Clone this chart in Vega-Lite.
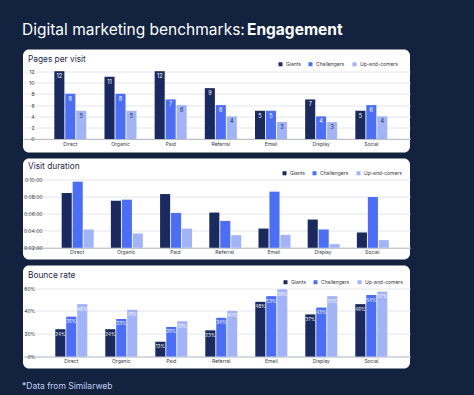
{
  "$schema": "https://vega.github.io/schema/vega-lite/v6.json",
  "background": "#12223f",
  "padding": {"left": 22, "top": 22.5, "right": 80, "bottom": 12},
  "config": {
    "view": {"fill": "white", "stroke": null, "cornerRadius": 6},
    "font": "Inter",
    "axis": {"labelFont": "Inter"},
    "legend": {"labelFont": "Inter"}
  },
  "datasets": {
    "pages": [
      {"channel": "Direct", "segment": "Giants", "value": 12},
      {"channel": "Direct", "segment": "Challengers", "value": 8},
      {"channel": "Direct", "segment": "Up-and-comers", "value": 5},
      {"channel": "Organic", "segment": "Giants", "value": 11},
      {"channel": "Organic", "segment": "Challengers", "value": 8},
      {"channel": "Organic", "segment": "Up-and-comers", "value": 5},
      {"channel": "Paid", "segment": "Giants", "value": 12},
      {"channel": "Paid", "segment": "Challengers", "value": 7},
      {"channel": "Paid", "segment": "Up-and-comers", "value": 6},
      {"channel": "Referral", "segment": "Giants", "value": 9},
      {"channel": "Referral", "segment": "Challengers", "value": 6},
      {"channel": "Referral", "segment": "Up-and-comers", "value": 4},
      {"channel": "Email", "segment": "Giants", "value": 5},
      {"channel": "Email", "segment": "Challengers", "value": 5},
      {"channel": "Email", "segment": "Up-and-comers", "value": 3},
      {"channel": "Display", "segment": "Giants", "value": 7},
      {"channel": "Display", "segment": "Challengers", "value": 4},
      {"channel": "Display", "segment": "Up-and-comers", "value": 3},
      {"channel": "Social", "segment": "Giants", "value": 5},
      {"channel": "Social", "segment": "Challengers", "value": 6},
      {"channel": "Social", "segment": "Up-and-comers", "value": 4}
    ],
    "duration": [
      {"channel": "Direct", "segment": "Giants", "value": 8.44},
      {"channel": "Direct", "segment": "Challengers", "value": 9.77},
      {"channel": "Direct", "segment": "Up-and-comers", "value": 4.15},
      {"channel": "Organic", "segment": "Giants", "value": 7.54},
      {"channel": "Organic", "segment": "Challengers", "value": 7.66},
      {"channel": "Organic", "segment": "Up-and-comers", "value": 3.68},
      {"channel": "Paid", "segment": "Giants", "value": 8.32},
      {"channel": "Paid", "segment": "Challengers", "value": 6.1},
      {"channel": "Paid", "segment": "Up-and-comers", "value": 4.26},
      {"channel": "Referral", "segment": "Giants", "value": 6.14},
      {"channel": "Referral", "segment": "Challengers", "value": 5.16},
      {"channel": "Referral", "segment": "Up-and-comers", "value": 3.48},
      {"channel": "Email", "segment": "Giants", "value": 4.26},
      {"channel": "Email", "segment": "Challengers", "value": 8.6},
      {"channel": "Email", "segment": "Up-and-comers", "value": 3.52},
      {"channel": "Display", "segment": "Giants", "value": 5.32},
      {"channel": "Display", "segment": "Challengers", "value": 4.15},
      {"channel": "Display", "segment": "Up-and-comers", "value": 2.43},
      {"channel": "Social", "segment": "Giants", "value": 3.8},
      {"channel": "Social", "segment": "Challengers", "value": 7.97},
      {"channel": "Social", "segment": "Up-and-comers", "value": 2.9}
    ],
    "bounce": [
      {"channel": "Direct", "segment": "Giants", "value": 0.24},
      {"channel": "Direct", "segment": "Challengers", "value": 0.35},
      {"channel": "Direct", "segment": "Up-and-comers", "value": 0.46},
      {"channel": "Organic", "segment": "Giants", "value": 0.24},
      {"channel": "Organic", "segment": "Challengers", "value": 0.33},
      {"channel": "Organic", "segment": "Up-and-comers", "value": 0.41},
      {"channel": "Paid", "segment": "Giants", "value": 0.13},
      {"channel": "Paid", "segment": "Challengers", "value": 0.26},
      {"channel": "Paid", "segment": "Up-and-comers", "value": 0.31},
      {"channel": "Referral", "segment": "Giants", "value": 0.23},
      {"channel": "Referral", "segment": "Challengers", "value": 0.34},
      {"channel": "Referral", "segment": "Up-and-comers", "value": 0.40},
      {"channel": "Email", "segment": "Giants", "value": 0.48},
      {"channel": "Email", "segment": "Challengers", "value": 0.53},
      {"channel": "Email", "segment": "Up-and-comers", "value": 0.59},
      {"channel": "Display", "segment": "Giants", "value": 0.37},
      {"channel": "Display", "segment": "Challengers", "value": 0.43},
      {"channel": "Display", "segment": "Up-and-comers", "value": 0.53},
      {"channel": "Social", "segment": "Giants", "value": 0.46},
      {"channel": "Social", "segment": "Challengers", "value": 0.54},
      {"channel": "Social", "segment": "Up-and-comers", "value": 0.57}
    ]
  },
  "title": {"text": "*Data from Similarweb", "orient": "bottom", "anchor": "start", "frame": "bounds", "color": "#c3d0f3", "fontSize": 8.5, "fontWeight": "normal", "font": "Inter", "offset": 13},
  "vconcat": [
    {
      "title": {"text": "Digital marketing benchmarks:", "anchor": "start", "color": "white", "fontSize": 15.5, "fontWeight": "normal", "font": "Inter", "offset": -15.5, "dx": -1},
      "vconcat": [
        {
          "title": {"text": "Engagement", "anchor": "start", "color": "white", "fontSize": 15.5, "fontWeight": "bold", "font": "Inter", "offset": 11.5, "dx": 224},
          "spacing": 6,
          "resolve": {"legend": {"color": "independent"}},
          "vconcat": [
            {
              "width": 387, "height": 103,
              "data": {"name": "pages"},
              "title": {"text": "Pages per visit", "anchor": "start", "frame": "group", "offset": -14, "dx": 5, "fontSize": 8.3, "fontWeight": "normal", "color": "#1d2747", "font": "Inter"},
              "encoding": {
                "x": {"field": "channel", "type": "nominal", "sort": ["Direct", "Organic", "Paid", "Referral", "Email", "Display", "Social"],
                  "scale": {"paddingInner": 0.362, "paddingOuter": 0.538, "align": 0.58},
                  "axis": {"title": null, "offset": -13.5, "domainColor": "#b9bdc6", "ticks": false, "labelFontSize": 5, "labelColor": "#333844", "labelPadding": 2, "labelAngle": 0, "grid": false}},
                "xOffset": {"field": "segment", "sort": ["Giants", "Challengers", "Up-and-comers"], "scale": {"paddingInner": 0.08}},
                "y": {"field": "value", "type": "quantitative", "scale": {"domain": [-2.39, 15.84], "nice": false, "zero": false},
                  "axis": {"title": null, "values": [0, 2, 4, 6, 8, 10, 12], "offset": -14, "domain": false, "ticks": false, "labelFontSize": 5, "labelColor": "#333844", "labelPadding": 3, "gridColor": "#e4e6eb"}}
              },
              "layer": [
                {"mark": {"type": "bar"},
                  "encoding": {"color": {"field": "segment", "type": "nominal", "sort": ["Giants", "Challengers", "Up-and-comers"],
                    "scale": {"domain": ["Giants", "Challengers", "Up-and-comers"], "range": ["#1b2a5e", "#4b6ef4", "#a2b4f6"]},
                    "legend": {"title": null, "orient": "none", "legendX": 255, "legendY": 12, "direction": "horizontal", "symbolType": "square", "symbolSize": 16, "symbolStrokeWidth": 0, "labelFontSize": 5, "labelColor": "#333844", "columnPadding": 7, "labelOffset": 3}}}},
                {"mark": {"type": "text", "baseline": "top", "dy": 3, "fontSize": 5.5},
                  "encoding": {"text": {"field": "value", "type": "quantitative"},
                    "color": {"condition": {"test": "datum.segment === 'Up-and-comers'", "value": "#1d2747"}, "value": "white"}}}
              ]
            },
            {
              "width": 387, "height": 101,
              "data": {"name": "duration"},
              "title": {"text": "Visit duration", "anchor": "start", "frame": "group", "offset": -12, "dx": 5, "fontSize": 8.3, "fontWeight": "normal", "color": "#1d2747", "font": "Inter"},
              "encoding": {
                "x": {"field": "channel", "type": "nominal", "sort": ["Direct", "Organic", "Paid", "Referral", "Email", "Display", "Social"],
                  "scale": {"paddingInner": 0.376, "paddingOuter": 0.621, "align": 0.633},
                  "axis": {"title": null, "offset": -11.7, "domainColor": "#b9bdc6", "ticks": false, "labelFontSize": 5, "labelColor": "#333844", "labelPadding": 2, "labelAngle": 0, "grid": false}},
                "xOffset": {"field": "segment", "sort": ["Giants", "Challengers", "Up-and-comers"], "scale": {"paddingInner": 0.08}},
                "y": {"field": "value", "type": "quantitative", "scale": {"domain": [0.62, 12.5], "nice": false, "zero": false},
                  "axis": {"title": null, "values": [2, 4, 6, 8, 10], "labelExpr": "'0:' + (datum.value < 10 ? '0' : '') + datum.value + ':00'", "offset": -22, "domain": false, "ticks": false, "labelFontSize": 5, "labelColor": "#333844", "labelPadding": 3, "gridColor": "#e4e6eb"}}
              },
              "layer": [
                {"mark": {"type": "bar"},
                  "encoding": {"y2": {"datum": 2},
                    "color": {"field": "segment", "type": "nominal", "sort": ["Giants", "Challengers", "Up-and-comers"],
                    "scale": {"domain": ["Giants", "Challengers", "Up-and-comers"], "range": ["#1b2a5e", "#4b6ef4", "#a2b4f6"]},
                    "legend": {"title": null, "orient": "none", "legendX": 259, "legendY": 12, "direction": "horizontal", "symbolType": "square", "symbolSize": 16, "symbolStrokeWidth": 0, "labelFontSize": 5, "labelColor": "#333844", "columnPadding": 7, "labelOffset": 3}}}}
              ]
            },
            {
              "width": 387, "height": 103,
              "data": {"name": "bounce"},
              "title": {"text": "Bounce rate", "anchor": "start", "frame": "group", "offset": -14, "dx": 5, "fontSize": 8.3, "fontWeight": "normal", "color": "#1d2747", "font": "Inter"},
              "encoding": {
                "x": {"field": "channel", "type": "nominal", "sort": ["Direct", "Organic", "Paid", "Referral", "Email", "Display", "Social"],
                  "scale": {"paddingInner": 0.36, "paddingOuter": 0.55, "align": 0.587},
                  "axis": {"title": null, "offset": -12, "domainColor": "#b9bdc6", "ticks": false, "labelFontSize": 5, "labelColor": "#333844", "labelPadding": 2, "labelAngle": 0, "grid": false}},
                "xOffset": {"field": "segment", "sort": ["Giants", "Challengers", "Up-and-comers"], "scale": {"paddingInner": 0.08}},
                "y": {"field": "value", "type": "quantitative", "scale": {"domain": [-0.105, 0.799], "nice": false, "zero": false},
                  "axis": {"title": null, "values": [0, 0.2, 0.4, 0.6], "format": ".0%", "offset": -15, "domain": false, "ticks": false, "labelFontSize": 5, "labelColor": "#333844", "labelPadding": 3, "gridColor": "#e4e6eb"}}
              },
              "layer": [
                {"mark": {"type": "bar"},
                  "encoding": {"color": {"field": "segment", "type": "nominal", "sort": ["Giants", "Challengers", "Up-and-comers"],
                    "scale": {"domain": ["Giants", "Challengers", "Up-and-comers"], "range": ["#1b2a5e", "#4b6ef4", "#a2b4f6"]},
                    "legend": {"title": null, "orient": "none", "legendX": 260, "legendY": 14, "direction": "horizontal", "symbolType": "square", "symbolSize": 16, "symbolStrokeWidth": 0, "labelFontSize": 5, "labelColor": "#333844", "columnPadding": 7, "labelOffset": 3}}}},
                {"mark": {"type": "text", "baseline": "top", "dy": 2.5, "fontSize": 4.6},
                  "encoding": {"text": {"field": "value", "type": "quantitative", "format": ".0%"},
                    "color": {"value": "white"}}}
              ]
            }
          ]
        }
      ]
    }
  ]
}
